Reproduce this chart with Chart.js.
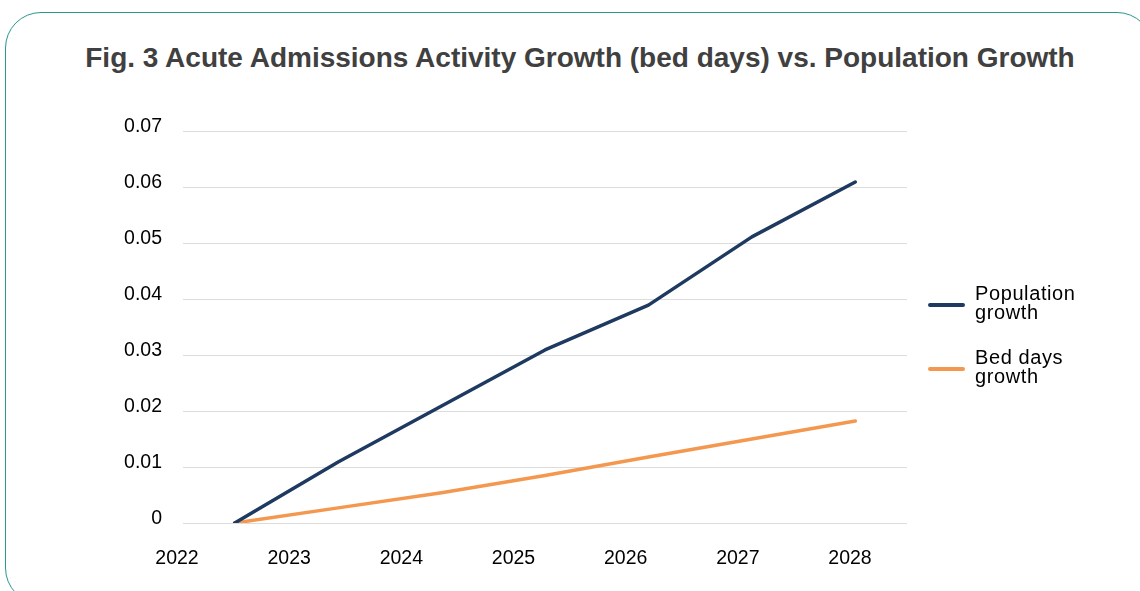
<!DOCTYPE html>
<html>
<head>
<meta charset="utf-8">
<script src="https://cdn.jsdelivr.net/npm/chart.js@4.4.1/dist/chart.umd.min.js"></script>
<style>
  html, body { margin: 0; padding: 0; background: #fff; overflow: hidden; }
  body { width: 1140px; height: 591px; position: relative; font-family: "Liberation Sans", Arial, sans-serif; }
  .frame {
    position: absolute; left: 5px; top: 12px; width: 1148px; height: 592px;
    border: 1.7px solid #2b9690; border-radius: 36px; box-sizing: border-box;
  }
  .title {
    position: absolute; left: 80px; width: 1000px; top: 40px; text-align: center;
    font-size: 28px; font-weight: bold; color: #404040; line-height: 36px; white-space: nowrap;
  }
  .wrap { position: absolute; left: 0; top: 0; width: 1140px; height: 591px; }
  .legend { position: absolute; left: 928px; top: 0; font-size: 20px; color: #000; letter-spacing: 0.6px; }
  .legend .item { position: absolute; left: 0; width: 210px; }
  .legend .swatch { position: absolute; left: 0; width: 37px; height: 4px; border-radius: 2px; }
  .legend .text { position: absolute; left: 47px; line-height: 19px; white-space: nowrap; }
</style>
</head>
<body>
<div class="frame"></div>
<div class="title" id="titulo"></div>
<div class="wrap"><canvas id="grafico" width="1140" height="591"></canvas></div>
<div class="legend" id="legend"></div>
<script>
document.addEventListener('DOMContentLoaded', () => {
  const TITLE = 'Fig. 3 Acute Admissions Activity Growth (bed days) vs. Population Growth';
  const years = [2022, 2023, 2024, 2025, 2026, 2027, 2028];
  const puntos = ['p1', 'p2', 'p3', 'p4', 'p5', 'p6', 'p7'];
  const poblacion = [0, 0.0109, 0.0209, 0.0309, 0.0389, 0.0511, 0.0609];
  const camas = [0, 0.0027, 0.0054, 0.0085, 0.0118, 0.015, 0.0182];
  const yTicks = [0, 0.01, 0.02, 0.03, 0.04, 0.05, 0.06, 0.07];

  const series = [
    { label: ['Population', 'growth'], data: poblacion, color: '#1f3a60' },
    { label: ['Bed days', 'growth'], data: camas, color: '#f4984f' }
  ];

  document.getElementById('titulo').textContent = TITLE;

  const font = { family: '"Liberation Sans", Arial, sans-serif', size: 19.5, lineHeight: 1.2 };

  const ctx = document.getElementById('grafico').getContext('2d');
  new Chart(ctx, {
    type: 'line',
    data: {
      labels: puntos,
      datasets: series.map(s => ({
        label: s.label.join(' '),
        data: s.data,
        borderColor: s.color,
        backgroundColor: s.color,
        borderWidth: 3.5,
        borderCapStyle: 'round',
        borderJoinStyle: 'round',
        pointRadius: 0,
        tension: 0,
        fill: false,
        xAxisID: 'x'
      }))
    },
    options: {
      responsive: false,
      animation: false,
      layout: { padding: { left: 0, right: 233, top: 131, bottom: 0 } },
      plugins: {
        legend: { display: false },
        tooltip: { enabled: false },
        title: { display: false }
      },
      scales: {
        x: {
          type: 'category',
          offset: true,
          display: false
        },
        year: {
          type: 'linear',
          position: 'bottom',
          min: 2022.0535,
          max: 2028.508,
          afterBuildTicks: scale => { scale.ticks = years.map(v => ({ value: v })); },
          afterFit: scale => { scale.height = 68; },
          grid: { display: false },
          border: { display: false },
          ticks: {
            color: '#000',
            padding: 16,
            maxRotation: 0,
            autoSkip: false,
            callback: v => String(v),
            font: font
          }
        },
        y: {
          min: 0,
          max: 0.07,
          afterBuildTicks: scale => { scale.ticks = yTicks.map(v => ({ value: v })); },
          afterFit: scale => { scale.width = 183; },
          grid: { color: '#dcdcdc', lineWidth: 1, drawTicks: false },
          border: { display: false },
          ticks: {
            color: '#000',
            padding: 21,
            labelOffset: -4,
            callback: v => String(+v.toFixed(2)),
            font: font
          }
        }
      }
    }
  });

  const legend = document.getElementById('legend');
  const tops = [305, 369];
  series.forEach((s, i) => {
    const item = document.createElement('div');
    item.className = 'item';
    item.style.top = tops[i] + 'px';
    const sw = document.createElement('div');
    sw.className = 'swatch';
    sw.style.background = s.color;
    sw.style.top = '-2px';
    const tx = document.createElement('div');
    tx.className = 'text';
    tx.style.top = '-21px';
    tx.innerHTML = s.label.join('<br>');
    item.appendChild(sw);
    item.appendChild(tx);
    legend.appendChild(item);
  });
});
</script>
</body>
</html>
